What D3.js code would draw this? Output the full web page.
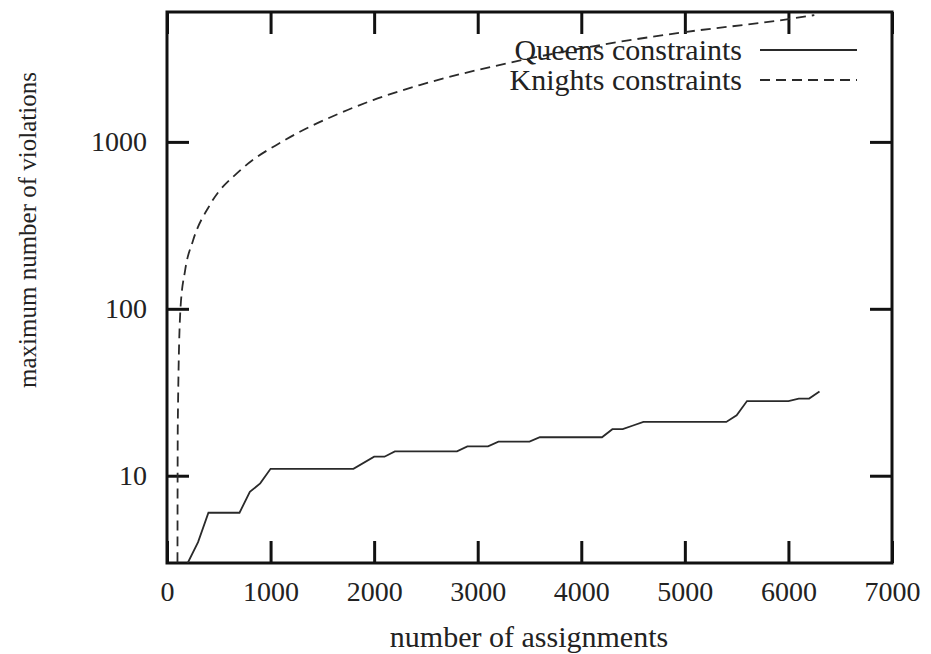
<!DOCTYPE html>
<html>
<head>
<meta charset="utf-8">
<script src="https://cdn.jsdelivr.net/npm/d3@7"></script>
<style>
  body { margin: 0; background: #fff; }
  text { font-family: "Liberation Serif", "Times New Roman", serif; fill: #222; }
</style>
</head>
<body>
<svg id="chart" width="931" height="654"></svg>
<script>
// data
var queensX = [200, 300, 400, 700, 800, 900, 1000, 1800, 2000, 2100, 2200, 2800, 2900, 3100, 3200, 3500, 3600, 4200, 4300, 4400, 4500, 4600, 5400, 5500, 5600, 6000, 6100, 6200, 6300];
var queensY = [3, 4, 6, 6, 8, 9, 11, 11, 13, 13, 14, 14, 15, 15, 16, 16, 17, 17, 19, 19, 20, 21, 21, 23, 28, 28, 29, 29, 32];

var knightsX = [100, 104, 130, 175, 250, 415, 724, 1120, 1640, 1990, 2440, 3310, 4050, 4980, 5985, 6250];
var knightsY = [1, 20, 100, 170, 255, 420, 690, 1010, 1460, 1780, 2190, 2980, 3680, 4530, 5420, 5750];

var xTicks = [0, 1000, 2000, 3000, 4000, 5000, 6000, 7000];
var yTicks = [10, 100, 1000];

var legendNames = ["Queens constraints", "Knights constraints"];

var svg = d3.select("#chart");
var plotLeft = 167, plotRight = 892, plotTop = 12, plotBottom = 563;
var tickLen = 22;

var x = d3.scaleLinear().domain([0, 7000]).range([plotLeft, plotRight]);
var y = d3.scaleLog().domain([3, 6000]).range([plotBottom, plotTop]);

svg.append("clipPath").attr("id", "plotArea")
  .append("rect")
  .attr("x", plotLeft).attr("y", plotTop)
  .attr("width", plotRight - plotLeft).attr("height", plotBottom - plotTop);

// axes, ticks point inward
var axisStyle = function(g) {
  g.select(".domain").remove();
  g.selectAll(".tick line").attr("stroke", "#111").attr("stroke-width", 3);
  g.selectAll(".tick text").attr("font-size", "28px").attr("fill", "#222")
    .attr("font-family", "Liberation Serif, Times New Roman, serif");
};

svg.append("g")
  .attr("transform", "translate(0," + plotBottom + ")")
  .call(d3.axisBottom(x).tickValues(xTicks).tickSize(-tickLen).tickPadding(18).tickFormat(d3.format("d")))
  .call(axisStyle);

svg.append("g")
  .attr("transform", "translate(0," + plotTop + ")")
  .call(d3.axisTop(x).tickValues(xTicks).tickSize(-tickLen).tickFormat(""))
  .call(axisStyle);

svg.append("g")
  .attr("transform", "translate(" + plotLeft + ",0)")
  .call(d3.axisLeft(y).tickValues(yTicks).tickSize(-tickLen).tickPadding(20).tickFormat(d3.format("d")))
  .call(axisStyle);

svg.append("g")
  .attr("transform", "translate(" + plotRight + ",0)")
  .call(d3.axisRight(y).tickValues(yTicks).tickSize(-tickLen).tickFormat(""))
  .call(axisStyle);

// frame
svg.append("rect")
  .attr("x", plotLeft).attr("y", plotTop)
  .attr("width", plotRight - plotLeft).attr("height", plotBottom - plotTop)
  .attr("fill", "none").attr("stroke", "#111").attr("stroke-width", 3);

// series
var queens = queensX.map(function(d, i) { return [d, queensY[i]]; });
var knights = knightsX.map(function(d, i) { return [d, knightsY[i]]; });

var line = d3.line()
  .x(function(d) { return x(d[0]); })
  .y(function(d) { return y(d[1]); });

svg.append("path")
  .datum(queens)
  .attr("clip-path", "url(#plotArea)")
  .attr("d", line)
  .attr("fill", "none").attr("stroke", "#2a2a2a").attr("stroke-width", 1.8);

svg.append("path")
  .datum(knights)
  .attr("clip-path", "url(#plotArea)")
  .attr("d", line.curve(d3.curveMonotoneX))
  .attr("fill", "none").attr("stroke", "#2a2a2a").attr("stroke-width", 1.8)
  .attr("stroke-dasharray", "10,6");

// legend
var legend = svg.append("g");
legendNames.forEach(function(name, i) {
  var ly = 50 + i * 30;
  legend.append("text")
    .attr("x", 742).attr("y", ly + 10)
    .attr("text-anchor", "end")
    .attr("font-size", "30px")
    .text(name);
  legend.append("line")
    .attr("x1", 760).attr("x2", 857)
    .attr("y1", ly).attr("y2", ly)
    .attr("stroke", "#2a2a2a").attr("stroke-width", 1.8)
    .attr("stroke-dasharray", i === 1 ? "10,6" : null);
});

// axis titles
svg.append("text")
  .attr("x", (390 + 668) / 2).attr("y", 647)
  .attr("text-anchor", "middle")
  .attr("font-size", "30px")
  .text("number of assignments");

svg.append("text")
  .attr("transform", "translate(36,230) rotate(-90)")
  .attr("text-anchor", "middle")
  .attr("font-size", "25px")
  .text("maximum number of violations");
</script>
</body>
</html>
